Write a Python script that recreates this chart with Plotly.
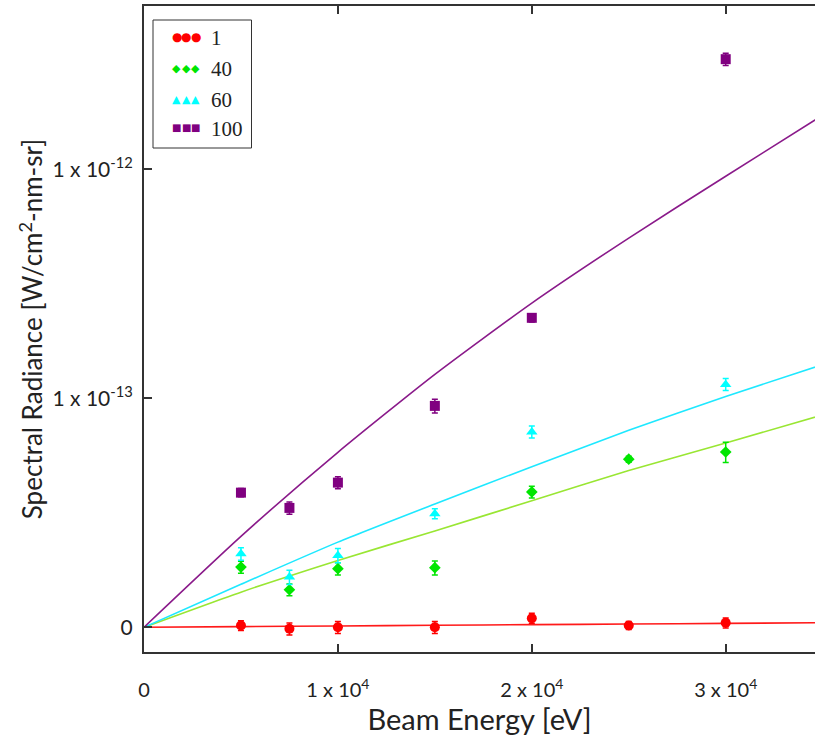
import numpy as np
import plotly.graph_objects as go

# Beam energies [eV] at which each beam current was measured
energy_7 = [5000, 7500, 10000, 15000, 20000, 25000, 30000]
energy_6 = [5000, 7500, 10000, 15000, 20000, 30000]

# Measured spectral radiance [W/cm^2-nm-sr] and one-sigma uncertainties
radiance_1 = [2.2e-16, -1.8e-16, 1e-17, 1e-17, 1.14e-15, 2.2e-16, 5.5e-16]
error_1 = [6.0e-16, 7.2e-16, 7.2e-16, 7.2e-16, 6.5e-16, 4.8e-16, 6.3e-16]

radiance_40 = [9.77e-15, 5.42e-15, 9.43e-15, 9.64e-15, 3.33e-14, 5.02e-14, 5.47e-14]
error_40 = [1.3e-15, 1.0e-15, 1.3e-15, 1.5e-15, 2.6e-15, 1.8e-15, 6.5e-15]

radiance_60 = [1.28e-14, 7.73e-15, 1.24e-14, 2.47e-14, 6.90e-14, 1.16e-13]
error_60 = [1.5e-15, 1.4e-15, 1.7e-15, 1.8e-15, 4.7e-15, 7.4e-15]

radiance_100 = [3.30e-14, 2.68e-14, 3.76e-14, 9.21e-14, 2.31e-13, 2.90e-12]
error_100 = [1.8e-15, 2.3e-15, 2.9e-15, 7.0e-15, 9.4e-15, 1.7e-13]

# Model curves sampled along the energy axis
fit_energy = [0, 5000, 10000, 15000, 20000, 25000, 30000, 35000]
fit_1 = [0, 8e-17, 1.6e-16, 2.4e-16, 3.2e-16, 4.0e-16, 4.8e-16, 5.6e-16]
fit_40 = [0, 5.01e-15, 1.125e-14, 1.90e-14, 2.96e-14, 4.38e-14, 6.07e-14, 8.35e-14]
fit_60 = [0, 6.39e-15, 1.58e-14, 2.83e-14, 4.59e-14, 7.02e-14, 1.02e-13, 1.43e-13]
fit_100 = [0, 1.74e-14, 5.45e-14, 1.29e-13, 2.68e-13, 5.11e-13, 9.35e-13, 1.69e-12]

# Axis tick values
x_ticks = [0, 1e4, 2e4, 3e4]
x_tick_text = ["0", "1 x 10<sup>4</sup>", "2 x 10<sup>4</sup>", "3 x 10<sup>4</sup>"]
y_ticks = [0, 1e-13, 1e-12]
y_tick_text = ["0", "1 x 10<sup>-13</sup>", "1 x 10<sup>-12</sup>"]

# Compressed radiance scale: log9(1 + R / R0), linear near zero
R0 = 1.25e-14


def to_axis(v):
    return np.log1p(np.asarray(v, dtype=float) / R0) / np.log(9.0)


def err_bars(values, errors):
    v = np.asarray(values, dtype=float)
    e = np.asarray(errors, dtype=float)
    return to_axis(v + e) - to_axis(v), to_axis(v) - to_axis(v - e)


series = [
    ("1", energy_7, radiance_1, error_1, fit_1, "#ff0000", "#ff1a1a", "circle", 10),
    ("40", energy_7, radiance_40, error_40, fit_40, "#00e600", "#99e633", "diamond", 9),
    ("60", energy_6, radiance_60, error_60, fit_60, "#00ffff", "#1ee8ff", "triangle-up", 10),
    ("100", energy_6, radiance_100, error_100, fit_100, "#800080", "#8a1a8a", "square", 10),
]

fig = go.Figure()

for name, ex, rad, err, fit, mcol, lcol, sym, size in series:
    fig.add_trace(go.Scatter(
        x=fit_energy, y=to_axis(fit), mode="lines", name=name + " fit",
        line=dict(color=lcol, width=1.6, shape="spline", smoothing=0.6),
        showlegend=False, hoverinfo="skip",
    ))

for name, ex, rad, err, fit, mcol, lcol, sym, size in series:
    plus, minus = err_bars(rad, err)
    fig.add_trace(go.Scatter(
        x=ex, y=to_axis(rad), mode="markers", name=name,
        marker=dict(color=mcol, symbol=sym, size=size, line=dict(width=0)),
        error_y=dict(type="data", array=plus, arrayminus=minus, symmetric=False,
                     color=mcol, thickness=1.5, width=3),
        showlegend=False,
    ))

# Legend box drawn in plot-area (paper) coordinates
PW, PH = 671.0, 646.0


def px(xp):
    return (xp - 144.0) / PW


def py(yp):
    return (652.0 - yp) / PH


fig.add_shape(type="rect", xref="paper", yref="paper",
              x0=px(153), x1=px(251.5), y0=py(148), y1=py(20),
              line=dict(color="#333333", width=1), fillcolor="white", layer="above")

legend_rows = [
    ("1", "#ff0000", "●", 12, 37),
    ("40", "#00e600", "◆", 11, 68),
    ("60", "#00ffff", "▲", 11, 99),
    ("100", "#800080", "■", 10, 128),
]
for label, col, glyph, gsize, yrow in legend_rows:
    for k in range(3):
        fig.add_annotation(xref="paper", yref="paper", x=px(176.5 + 9.7 * k), y=py(yrow),
                           text=glyph, showarrow=False, xanchor="center", yanchor="middle",
                           font=dict(family="DejaVu Sans", size=gsize, color=col))
    fig.add_annotation(xref="paper", yref="paper", x=px(209), y=py(yrow + 1),
                       text=label, showarrow=False, xanchor="left", yanchor="middle",
                       font=dict(family="Liberation Serif", size=21, color="#222222"))

fig.update_layout(
    width=815, height=738,
    margin=dict(l=144, r=0, t=6, b=86),
    paper_bgcolor="white", plot_bgcolor="white",
    font=dict(family="Lato", color="#222222"),
    showlegend=False,
    xaxis=dict(
        range=[0, 34605], tickmode="array", tickvals=x_ticks, ticktext=x_tick_text,
        ticks="inside", ticklen=8, tickwidth=1.5, tickcolor="#333333",
        showline=True, linecolor="#333333", linewidth=2, mirror="ticks",
        showgrid=False, zeroline=False,
        tickfont=dict(family="Lato", size=20, color="#222222"),
        ticklabelstandoff=19,
        title=dict(text="Beam Energy [eV]", font=dict(family="Lato", size=29, color="#222222"),
                   standoff=4),
    ),
    yaxis=dict(
        range=[-0.1079, 2.7131], tickmode="array", tickvals=to_axis(y_ticks), ticktext=y_tick_text,
        ticks="inside", ticklen=8, tickwidth=1.5, tickcolor="#333333",
        showline=True, linecolor="#333333", linewidth=2, mirror=False,
        showgrid=False, zeroline=False,
        tickfont=dict(family="Lato", size=21, color="#222222"),
        ticklabelstandoff=5,
        title=dict(text="Spectral Radiance [W/cm<sup>2</sup>-nm-sr]",
                   font=dict(family="Lato", size=26, color="#222222"), standoff=2),
    ),
)

fig.write_html("out.html")
